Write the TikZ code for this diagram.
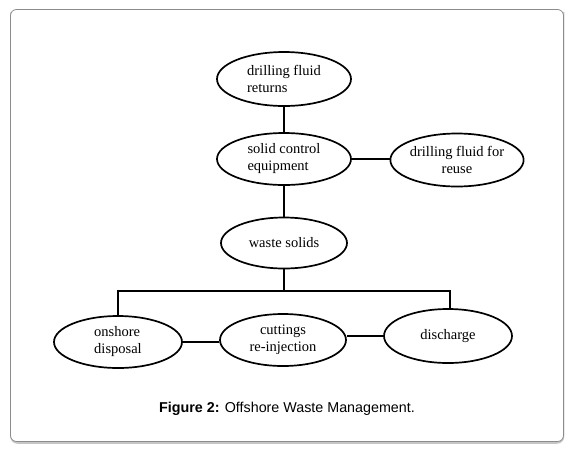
\documentclass[tikz,border=0pt]{standalone}
\usepackage{fontspec}
\setmainfont{Liberation Serif}
\newfontfamily\capfont{Liberation Sans}
\usetikzlibrary{shapes.geometric}
\begin{document}
\begin{tikzpicture}[x=1pt,y=-1pt,
  oval/.style={draw,line width=1.7pt,ellipse,minimum width=#1,inner sep=0pt,font=\fontsize{14.5}{17}\selectfont},
  oval/.default=130pt,
  link/.style={line width=1.9pt}]
\useasboundingbox (0,0) rectangle (573,451);
\draw[gray!45,line width=2.5pt,rounded corners=6pt] (11.5,12) -- (11.5,442.5) -- (563,442.5) -- (563,12);
\draw[gray!90,line width=0.8pt,rounded corners=6pt,fill=white] (10.5,9.5) rectangle (563.5,441.5);
\node[oval=134pt,minimum height=54pt,align=left] (dfr) at (284,79) {drilling fluid\\returns};
\node[oval=134pt,minimum height=52pt,align=left] (sce) at (284,159) {solid control\\equipment};
\node[oval=130pt,minimum height=53pt,align=center] (dfu) at (457,160) {drilling fluid for\\reuse};
\node[oval=126pt,minimum height=51pt] (ws) at (284,243) {waste solids};
\node[oval=128pt,minimum height=52pt,align=left] (od) at (118,342) {onshore\\disposal};
\node[oval=126pt,minimum height=52pt,align=center] (cr) at (283,340) {cuttings\\re-injection};
\node[oval=128pt,minimum height=54pt] (dis) at (448,336) {discharge};
\coordinate (bus) at (284,291);
\coordinate (busl) at (118,291);
\coordinate (busr) at (450,291);
\draw[link] (dfr.south) -- (sce.north);
\draw[link] (sce.east) -- (sce.east -| dfu.west);
\draw[link] (sce.south) -- (ws.north);
\draw[link] (ws.south) -- (bus);
\draw[link] (busl |- od.north) -- (busl) -- (busr) -- (busr |- dis.north);
\draw[link] (od.east) -- (od.east -| cr.west);
\draw[link] (cr.east |- dis.west) -- (dis.west);
\node[font=\capfont\fontsize{14.3}{17}\selectfont] (cap) at (287,409) {\textbf{Figure 2:} Offshore Waste Management.};
\end{tikzpicture}
\end{document}
